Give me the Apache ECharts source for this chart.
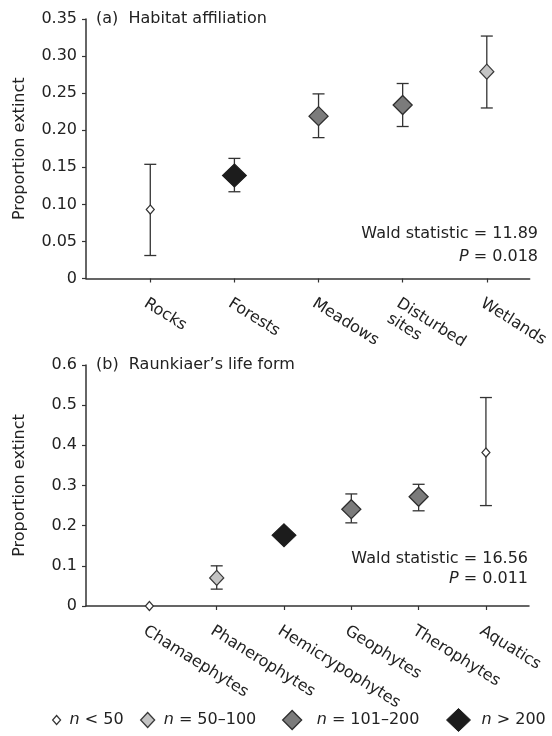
<!DOCTYPE html>
<html>
<head>
<meta charset="utf-8">
<script src="https://cdn.jsdelivr.net/npm/echarts@6/dist/echarts.min.js"></script>
<style>
  html, body { margin: 0; padding: 0; background: #fff; }
  #chart { width: 552px; height: 736px; }
</style>
</head>
<body>
<div id="chart"></div>
<script>
// panel (a) habitat affiliation
const habitatCats = ['Rocks', 'Forests', 'Meadows', 'Disturbed\nsites', 'Wetlands']
const habitatMean = [0.093, 0.139, 0.219, 0.234, 0.279]
const habitatLow = [0.031, 0.117, 0.190, 0.205, 0.230]
const habitatHigh = [0.154, 0.162, 0.249, 0.263, 0.327]
const habitatClass = [0, 3, 2, 2, 1]

// panel (b) Raunkiaer's life form
const lifeCats = ['Chamaephytes', 'Phanerophytes', 'Hemicrypophytes', 'Geophytes', 'Therophytes', 'Aquatics']
const lifeMean = [0, 0.070, 0.176, 0.241, 0.272, 0.382]
const lifeLow = [null, 0.042, 0.166, 0.207, 0.237, 0.250]
const lifeHigh = [null, 0.100, 0.186, 0.279, 0.303, 0.519]
const lifeClass = [0, 1, 3, 2, 2, 0]

// sample size classes
const classNames = ['n < 50', 'n = 50\u2013100', 'n = 101\u2013200', 'n > 200']

const FONT = 'DejaVu Sans'
const TXT = '#222'

const classStyle = [
  { size: [8, 9], fill: '#ffffff', border: '#333333', bw: 1.2 },
  { size: [14, 15], fill: '#c4c4c4', border: '#3a3a3a', bw: 1.3 },
  { size: [19, 19], fill: '#7b7b7b', border: '#2e2e2e', bw: 1.3 },
  { size: [24, 23], fill: '#1c1c1c', border: '#1c1c1c', bw: 1 }
]

function errorBar (params, api) {
  const x = api.value(0)
  const top = api.coord([x, api.value(2)])
  const bot = api.coord([x, api.value(1)])
  const cap = 6
  const style = { stroke: '#333', lineWidth: 1.3 }
  return {
    type: 'group',
    children: [
      { type: 'line', shape: { x1: top[0], y1: top[1], x2: bot[0], y2: bot[1] }, style },
      { type: 'line', shape: { x1: top[0] - cap, y1: top[1], x2: top[0] + cap, y2: top[1] }, style },
      { type: 'line', shape: { x1: bot[0] - cap, y1: bot[1], x2: bot[0] + cap, y2: bot[1] }, style }
    ]
  }
}

function panelSeries (idx, mean, low, high, cls) {
  const out = []
  const bars = []
  mean.forEach((m, i) => {
    if (low[i] != null) bars.push([i, low[i], high[i]])
  })
  out.push({
    type: 'custom',
    name: 'err' + idx,
    xAxisIndex: idx,
    yAxisIndex: idx,
    renderItem: errorBar,
    encode: { x: 0, y: [1, 2] },
    data: bars,
    z: 2,
    silent: true
  })
  classNames.forEach((name, k) => {
    const pts = []
    mean.forEach((m, i) => { if (cls[i] === k) pts.push([i, m]) })
    const st = classStyle[k]
    out.push({
      type: 'scatter',
      name: name,
      xAxisIndex: idx,
      yAxisIndex: idx,
      symbol: 'diamond',
      symbolSize: st.size,
      itemStyle: { color: st.fill, borderColor: st.border, borderWidth: st.bw, opacity: 1 },
      data: pts,
      z: 5
    })
  })
  return out
}

function xAxisFor (idx, cats, min, max) {
  const vals = cats.map((c, i) => i)
  return {
    type: 'value',
    gridIndex: idx,
    min: min,
    max: max,
    splitLine: { show: false },
    axisLine: { onZero: false, lineStyle: { color: '#333', width: 1.5 } },
    axisTick: { customValues: vals, length: 4, lineStyle: { color: '#333', width: 1.2 } },
    axisLabel: {
      customValues: vals,
      formatter: v => cats[Math.round(v)],
      rotate: -32,
      align: 'left',
      verticalAlign: 'top',
      margin: 16,
      fontFamily: FONT,
      fontSize: 16,
      color: TXT,
      lineHeight: 18
    }
  }
}

function yAxisFor (idx, max, interval, digits) {
  return {
    type: 'value',
    gridIndex: idx,
    min: 0,
    max: max,
    interval: interval,
    splitLine: { show: false },
    name: 'Proportion extinct',
    nameLocation: 'middle',
    nameRotate: 90,
    nameGap: 58,
    nameTextStyle: { fontFamily: FONT, fontSize: 16, color: TXT },
    axisLine: { show: true, onZero: false, lineStyle: { color: '#333', width: 1.5 } },
    axisTick: { show: true, length: 4, lineStyle: { color: '#333', width: 1.2 } },
    axisLabel: {
      margin: 9,
      fontFamily: FONT,
      fontSize: 16,
      color: TXT,
      formatter: v => (v === 0 ? '0' : v.toFixed(digits))
    }
  }
}

const legendLeft = [52, 140, 282, 446]
const legendPad = [4, 4, 10, 6]
const legends = classNames.map((name, k) => {
  const st = classStyle[k]
  return {
    left: legendLeft[k],
    top: 708,
    padding: 0,
    selectedMode: false,
    itemWidth: st.size[0],
    itemHeight: st.size[1],
    formatter: n => '{i|n}{t|' + n.slice(1) + '}',
    textStyle: {
      fontFamily: FONT,
      fontSize: 16,
      color: TXT,
      lineHeight: 24,
      rich: {
        i: { fontFamily: FONT, fontSize: 16, fontStyle: 'italic', color: TXT, lineHeight: 24, padding: [0, 0, 0, legendPad[k]] },
        t: { fontFamily: FONT, fontSize: 16, color: TXT, lineHeight: 24 }
      }
    },
    data: [{
      name: name,
      icon: 'diamond',
      itemStyle: { color: st.fill, borderColor: st.border, borderWidth: st.bw }
    }]
  }
})

const richWald = {
  i: { fontFamily: FONT, fontSize: 16, fontStyle: 'italic', fill: TXT }
}

const option = {
  animation: false,
  backgroundColor: '#fff',
  title: [
    { text: '(a)  Habitat affiliation', left: 96, top: 9, padding: 0,
      textStyle: { fontFamily: FONT, fontSize: 16, fontWeight: 'normal', color: TXT, lineHeight: 20 } },
    { text: '(b)  Raunkiaer\u2019s life form', left: 96, top: 355, padding: 0,
      textStyle: { fontFamily: FONT, fontSize: 16, fontWeight: 'normal', color: TXT, lineHeight: 20 } }
  ],
  grid: [
    { left: 86, top: 19, width: 444, height: 259.5 },
    { left: 86, top: 365, width: 443, height: 241 }
  ],
  xAxis: [
    xAxisFor(0, habitatCats, -0.764, 4.51),
    xAxisFor(1, lifeCats, -0.942, 5.64)
  ],
  yAxis: [
    yAxisFor(0, 0.35, 0.05, 2),
    yAxisFor(1, 0.6, 0.1, 1)
  ],
  legend: legends,
  graphic: [
    { type: 'text', x: 538, y: 222, silent: true,
      style: { text: 'Wald statistic = 11.89\n{i|P} = 0.018', align: 'right', verticalAlign: 'top',
        font: '16px "DejaVu Sans"', fill: TXT, lineHeight: 23, rich: richWald } },
    { type: 'text', x: 528, y: 549, silent: true,
      style: { text: 'Wald statistic = 16.56\n{i|P} = 0.011', align: 'right', verticalAlign: 'top',
        font: '16px "DejaVu Sans"', fill: TXT, lineHeight: 20, rich: richWald } }
  ],
  series: [
    ...panelSeries(0, habitatMean, habitatLow, habitatHigh, habitatClass),
    ...panelSeries(1, lifeMean, lifeLow, lifeHigh, lifeClass)
  ]
}

const chart = echarts.init(document.getElementById('chart'))
chart.setOption(option)
</script>
</body>
</html>
